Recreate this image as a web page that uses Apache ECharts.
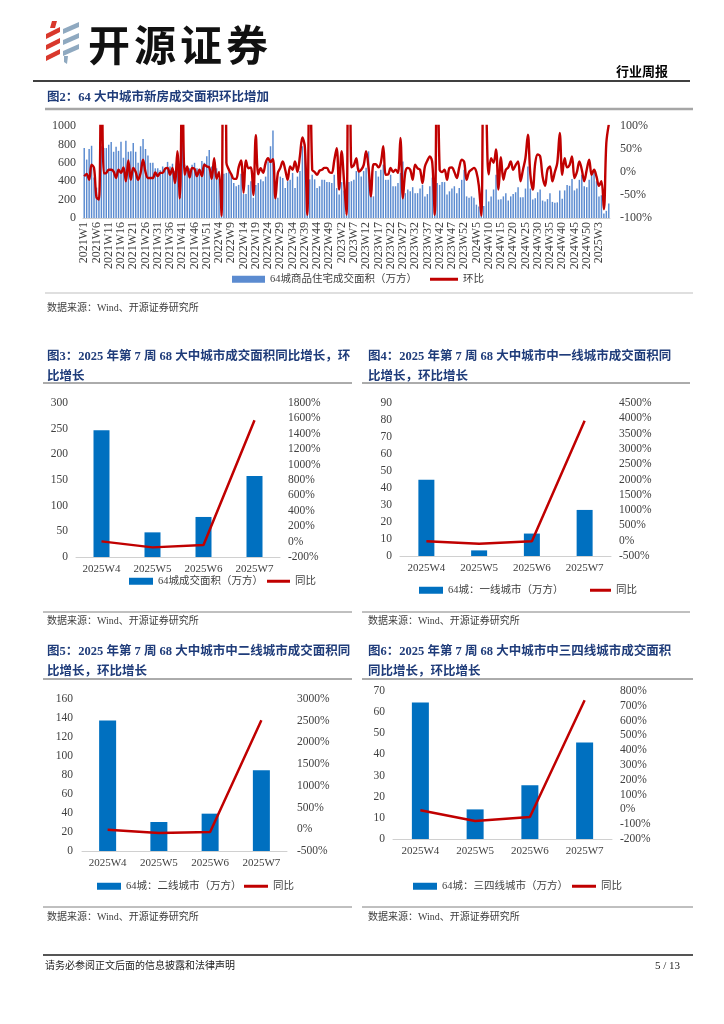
<!DOCTYPE html>
<html><head><meta charset="utf-8">
<script src="https://cdn.jsdelivr.net/npm/echarts@6/dist/echarts.min.js"></script>
<style>html,body{margin:0;padding:0;background:#fff}#c{width:724px;height:1024px}</style>
</head><body><div id="c"></div>
<script>
// ---------- Figure 2 data (64 cities weekly new-home sales area, 万方; WoW %) ----------
const yearWeeks = [[2021,52],[2022,52],[2023,52],[2024,52],[2025,7]];
const weekLabels = [];
yearWeeks.forEach(([y,n]) => { for (let w = 1; w <= n; w++) weekLabels.push(y + 'W' + w); });

const weeklyArea = [
760,635,750,785,440,330,220,780,760,760,
795,825,720,775,730,830,655,840,720,725,
815,720,600,780,860,750,680,600,600,540,
540,520,560,545,610,560,590,510,620,250,
820,580,560,540,580,600,540,520,620,600,
670,740,560,560,540,430,40,480,490,500,
470,380,345,360,480,260,260,360,400,220,
360,380,420,400,450,615,780,950,325,220,
450,435,325,400,415,490,325,450,510,780,
800,115,420,470,420,325,345,415,415,390,
390,380,470,325,255,390,300,30,390,400,
415,510,545,450,510,545,725,360,235,510,
450,525,580,415,415,470,345,345,380,490,
615,270,310,290,335,270,270,320,360,235,
260,345,440,110,380,360,390,390,255,290,
320,345,270,325,415,525,235,220,235,220,
145,125,36,130,310,180,235,310,470,200,
205,235,270,190,235,260,280,335,225,225,
320,560,320,200,215,280,310,190,180,205,
270,175,165,170,300,210,300,360,350,425,
300,320,415,470,345,335,415,490,510,400,
235,247,48,78,158
];
const weeklyWoW = [
-9,-4,-17,16,9,-55,-60,300,-3,-2,
5,5,1,-13,5,-2,10,-20,25,-17,
9,0,-17,-2,27,0,-13,-13,-13,-1,
-9,-2,-2,7,9,-6,9,-24,45,-57,
230,-6,12,-12,9,7,-9,5,-9,16,
12,10,-15,30,-15,0,-95,900,20,5,
-5,-15,-15,10,25,-45,25,8,10,-50,
80,-5,8,-2,20,30,22,28,-57,-2,
9,23,5,-17,12,5,23,0,35,75,
55,-93,300,5,0,-6,3,5,9,9,
0,-2,25,52,-38,45,-20,-93,800,10,
15,30,1,5,15,45,10,-53,17,17,
10,20,56,-6,-5,9,0,5,-2,74,
-57,0,9,5,-17,16,8,5,-24,12,
25,34,20,-93,300,5,0,5,-17,9,
10,0,-13,10,27,22,-17,0,5,9,
0,-30,-95,350,150,-5,30,20,49,-38,
32,-17,5,10,23,5,15,23,-20,5,
30,81,-5,-38,20,38,34,-10,-30,5,
12,-20,0,20,85,-6,30,10,15,34,
-13,0,23,5,-20,5,27,-6,5,-10,
-30,-20,-81,63,103
];

// ---------- Figures 3-6 data ----------
const smallWeeks = ['2025W4','2025W5','2025W6','2025W7'];
const totalArea  = [247, 48, 78, 158];
const totalYoY   = [3, -75, -45, 1576];
const tier1Area  = [44.8, 3.3, 13.2, 27.1];
const tier1YoY   = [-20, -96, -20, 3921];
const tier2Area  = [137.5, 30.5, 39.3, 84.9];
const tier2YoY   = [-9, -86, -63, 2509];
const tier34Area = [64.6, 14.0, 25.4, 45.6];
const tier34YoY  = [-6, -78, -51, 737];

const SERIF = "'Liberation Serif','Noto Sans CJK SC',serif";
const NAVY = '#1F3C7A';
const BAR2 = '#5B8BD0', BARS = '#0070C0', RED = '#C00000';
function axisTxt(size){ return {color:'#404040', fontFamily:SERIF, fontSize:size}; }
const fmtNum = v => String(v);
const fmtPct = v => v + '%';

function yAx(grid, min, max, interval, pct, pos, margin, size){
  return {type:'value', gridIndex:grid, min:min, max:max, interval:interval, position:pos,
    axisLine:{show:false}, axisTick:{show:false}, splitLine:{show:false},
    axisLabel:Object.assign({margin:margin, formatter: pct ? fmtPct : fmtNum}, axisTxt(size||11.5))};
}
function xAx(grid, data, extra){
  return Object.assign({type:'category', gridIndex:grid, data:data, boundaryGap:true,
    axisLine:{show:true, lineStyle:{color:'#d0d0d0', width:1}}, axisTick:{show:false},
    axisLabel:Object.assign({margin:7, interval:0}, axisTxt(11))}, extra||{});
}
function txt(x,y,text,font,fill,align){
  return {type:'text', silent:true, style:{x:x,y:y,text:text,font:font,fill:fill||'#000',
    textAlign:align||'left', textVerticalAlign:'middle', align:align||'left', verticalAlign:'middle'}};
}
function hl(x1,x2,y,color,w){
  return {type:'line', silent:true, shape:{x1:x1,y1:y,x2:x2,y2:y}, style:{stroke:color,lineWidth:w}};
}
function poly(pts,color){ return {type:'polygon', silent:true, shape:{points:pts}, style:{fill:color}}; }

const titleFont = "bold 12.5px " + SERIF;
const srcFont = "10px " + SERIF;
const legendText = {color:'#404040', fontFamily:SERIF, fontSize:10.5};
function lg(name, left, top, w, h){
  return {data:[name], left:left, top:top, itemWidth:w, itemHeight:h, icon:'rect', padding:0,
    textStyle:legendText, itemGap:0, selectedMode:false};
}

const graphic = [
  // logo icon
  poly([[52,21],[57,21],[55,28],[50,28]], '#D9382C'),
  poly([[46,34],[60,27],[60,32],[46,39]], '#D9382C'),
  poly([[46,45],[60,38],[60,43],[46,50]], '#D9382C'),
  poly([[46,56],[60,49],[60,54],[46,61]], '#D9382C'),
  poly([[63,29],[79,22],[79,27],[63,34]], '#8FA9C0'),
  poly([[63,40],[79,33],[79,38],[63,45]], '#8FA9C0'),
  poly([[63,51],[79,44],[79,49],[63,56]], '#8FA9C0'),
  poly([[64,56],[68,56],[67,64],[64,62]], '#8FA9C0'),
  txt(88,45,'开',"bold 42px 'Noto Sans CJK SC'",'#111'),
  txt(134,45,'源',"bold 42px 'Noto Sans CJK SC'",'#111'),
  txt(180,45,'证',"bold 42px 'Noto Sans CJK SC'",'#111'),
  txt(226,45,'券',"bold 42px 'Noto Sans CJK SC'",'#111'),
  txt(668,73,'行业周报',"bold 13px " + SERIF,'#000','right'),
  hl(33,690,81,'#000',1.5),
  // fig 2
  txt(47,98,'图2：64 大中城市新房成交面积环比增加',titleFont,NAVY),
  hl(45,693,109,'#A6A6A6',2.5),
  hl(45,693,293,'#BFBFBF',1),
  txt(47,308,'数据来源：Wind、开源证券研究所',srcFont,'#404040'),
  // fig 3 / 4
  txt(47,357,'图3：2025 年第 7 周 68 大中城市成交面积同比增长，环',titleFont,NAVY),
  txt(47,377,'比增长',titleFont,NAVY),
  hl(43,352,383,'#595959',1),
  txt(368,357,'图4：2025 年第 7 周 68 大中城市中一线城市成交面积同',titleFont,NAVY),
  txt(368,377,'比增长，环比增长',titleFont,NAVY),
  hl(362,690,383,'#595959',1),
  hl(43,352,612,'#808080',1),
  hl(362,690,612,'#808080',1),
  txt(47,621,'数据来源：Wind、开源证券研究所',srcFont,'#404040'),
  txt(368,621,'数据来源：Wind、开源证券研究所',srcFont,'#404040'),
  // fig 5 / 6
  txt(47,652,'图5：2025 年第 7 周 68 大中城市中二线城市成交面积同',titleFont,NAVY),
  txt(47,672,'比增长，环比增长',titleFont,NAVY),
  hl(43,352,679,'#595959',1),
  txt(368,652,'图6：2025 年第 7 周 68 大中城市中三四线城市成交面积',titleFont,NAVY),
  txt(368,672,'同比增长，环比增长',titleFont,NAVY),
  hl(362,693,679,'#595959',1),
  hl(43,352,907,'#808080',1),
  hl(362,693,907,'#808080',1),
  txt(47,917,'数据来源：Wind、开源证券研究所',srcFont,'#404040'),
  txt(368,917,'数据来源：Wind、开源证券研究所',srcFont,'#404040'),
  // footer
  hl(43,693,955,'#555',2),
  txt(45,966,'请务必参阅正文后面的信息披露和法律声明',srcFont,'#222'),
  txt(680,966,'5 / 13',"11px " + SERIF,'#222','right')
];

const option = {
  animation:false,
  backgroundColor:'#fff',
  graphic: graphic,
  grid:[
    {left:83, top:126, width:527, height:92},
    {left:76, top:403, width:204, height:154},
    {left:400, top:403, width:211, height:153},
    {left:82, top:699, width:205, height:152},
    {left:393, top:691, width:219, height:148}
  ],
  xAxis:[
    xAx(0, weekLabels, {axisLabel:Object.assign({margin:4, interval:4, rotate:90}, axisTxt(12))}),
    xAx(1, smallWeeks), xAx(2, smallWeeks), xAx(3, smallWeeks), xAx(4, smallWeeks)
  ],
  yAxis:[
    yAx(0, 0, 1000, 200, false, 'left', 7, 12),
    yAx(0, -100, 100, 50, true, 'right', 10, 12),
    yAx(1, 0, 300, 50, false, 'left', 8),
    yAx(1, -200, 1800, 200, true, 'right', 8),
    yAx(2, 0, 90, 10, false, 'left', 8),
    yAx(2, -500, 4500, 500, true, 'right', 8),
    yAx(3, 0, 160, 20, false, 'left', 9),
    yAx(3, -500, 3000, 500, true, 'right', 10),
    yAx(4, 0, 70, 10, false, 'left', 8),
    yAx(4, -200, 800, 100, true, 'right', 8)
  ],
  legend:[
    lg('64城商品住宅成交面积（万方）', 232, 274, 33, 7),
    lg('环比', 430, 274, 28, 3),
    lg('64城成交面积（万方）', 129, 576, 24, 7),
    lg('同比', 267, 576, 23, 3),
    lg('64城：一线城市（万方）', 419, 585, 24, 7),
    lg('同比', 590, 585, 21, 3),
    lg('64城：二线城市（万方）', 97, 881, 24, 7),
    lg('同比', 244, 881, 24, 3),
    lg('64城：三四线城市（万方）', 413, 881, 24, 7),
    lg('同比', 572, 881, 24, 3)
  ],
  series:[
    {name:'64城商品住宅成交面积（万方）', type:'bar', xAxisIndex:0, yAxisIndex:0, data:weeklyArea,
      barCategoryGap:'40%', itemStyle:{color:BAR2}},
    {name:'环比', type:'line', xAxisIndex:0, yAxisIndex:1, data:weeklyWoW, smooth:0.35, symbol:'none',
      clip:true, itemStyle:{color:RED}, lineStyle:{color:RED, width:2.4}},
    {name:'64城成交面积（万方）', type:'bar', xAxisIndex:1, yAxisIndex:2, data:totalArea, barWidth:16, itemStyle:{color:BARS}},
    {name:'同比', type:'line', xAxisIndex:1, yAxisIndex:3, data:totalYoY, symbol:'none', itemStyle:{color:RED}, lineStyle:{color:RED, width:2.5}},
    {name:'64城：一线城市（万方）', type:'bar', xAxisIndex:2, yAxisIndex:4, data:tier1Area, barWidth:16, itemStyle:{color:BARS}},
    {name:'同比', type:'line', xAxisIndex:2, yAxisIndex:5, data:tier1YoY, symbol:'none', itemStyle:{color:RED}, lineStyle:{color:RED, width:2.5}},
    {name:'64城：二线城市（万方）', type:'bar', xAxisIndex:3, yAxisIndex:6, data:tier2Area, barWidth:17, itemStyle:{color:BARS}},
    {name:'同比', type:'line', xAxisIndex:3, yAxisIndex:7, data:tier2YoY, symbol:'none', itemStyle:{color:RED}, lineStyle:{color:RED, width:2.5}},
    {name:'64城：三四线城市（万方）', type:'bar', xAxisIndex:4, yAxisIndex:8, data:tier34Area, barWidth:17, itemStyle:{color:BARS}},
    {name:'同比', type:'line', xAxisIndex:4, yAxisIndex:9, data:tier34YoY, symbol:'none', itemStyle:{color:RED}, lineStyle:{color:RED, width:2.5}}
  ]
};
const chart = echarts.init(document.getElementById('c'), null, {renderer:'canvas'});
chart.setOption(option);
</script>
</body></html>
